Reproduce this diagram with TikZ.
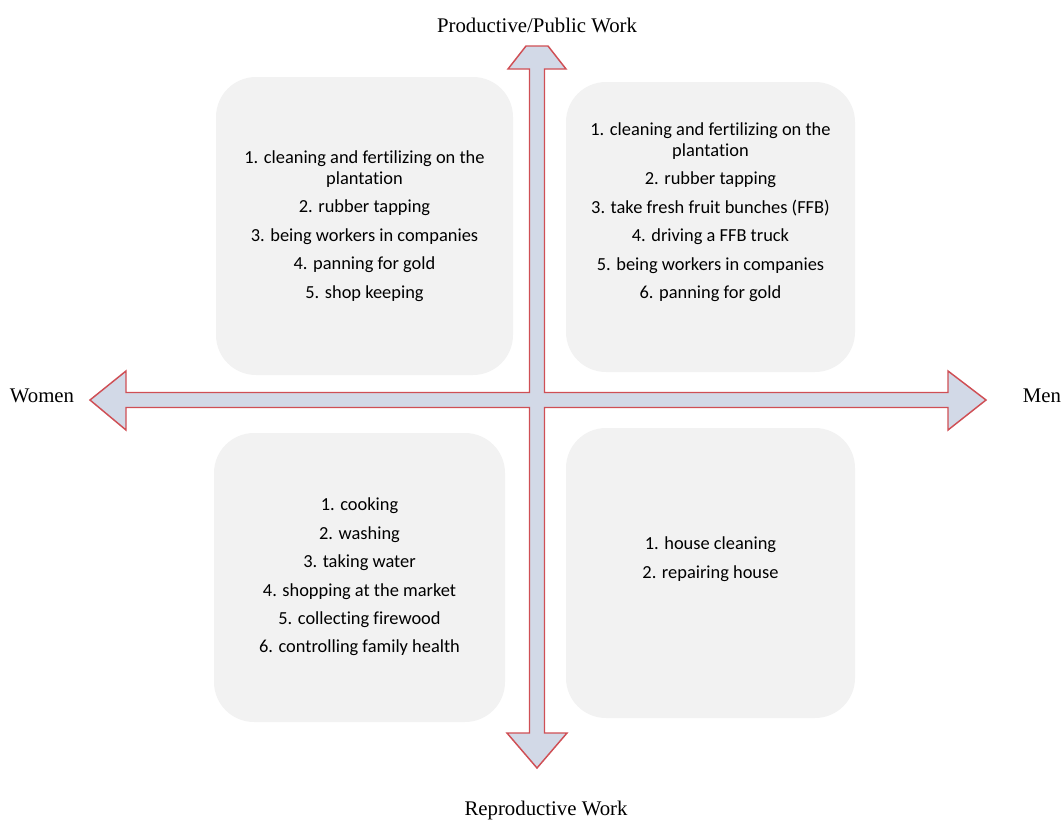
\documentclass[tikz,border=0pt]{standalone}
\usepackage{fontspec}
\setmainfont{Liberation Serif}
\newfontfamily\calibri[Ligatures=NoCommon]{Carlito}
\definecolor{panelgray}{HTML}{F2F2F2}
\definecolor{arrowfill}{HTML}{D2D9E7}
\definecolor{arrowedge}{HTML}{CF4F55}

\begin{document}
\begin{tikzpicture}[x=0.75pt, y=-0.75pt,
  panel/.style={fill=panelgray, rounded corners=30pt},
  list/.style={align=center, font=\calibri\fontsize{13.8}{15.75}\selectfont},
  axislabel/.style={font=\fontsize{15.6}{17}\selectfont}]
  % --- quadrant diagram: women/men vs productive/reproductive work ---
  \def\cx{537}\def\cy{400}
  \def\hw{7.5}

  % Bounding box of the whole image
  \useasboundingbox (0,0) rectangle (1063,821);

  % Rounded panels
  \fill[panel] (216,77) rectangle (513,375);
  \fill[panel] (566,82) rectangle (855,372);
  \fill[panel] (214,433) rectangle (505,722);
  \fill[panel] (566,428) rectangle (855,718);

  % Four-way arrow
  \draw[arrowedge, fill=arrowfill, line width=1.1pt, line join=miter]
    (\cx-\hw,69) -- (508,69) -- (526,46) -- (548,46) -- (566,69) -- (\cx+\hw,69)
    -- (\cx+\hw,\cy-\hw) -- (948,\cy-\hw) -- (948,371) -- (986,\cy) -- (948,430)
    -- (948,\cy+\hw) -- (\cx+\hw,\cy+\hw) -- (\cx+\hw,733) -- (567,733)
    -- (\cx,768) -- (507,733) -- (\cx-\hw,733) -- (\cx-\hw,\cy+\hw)
    -- (126,\cy+\hw) -- (126,430) -- (90,\cy) -- (126,371) -- (126,\cy-\hw)
    -- (\cx-\hw,\cy-\hw) -- cycle;

  % Axis labels
  \node[axislabel] (productive) at (537,25) {Productive/Public Work};
  \node[axislabel] (reproductive) at (546,810) {Reproductive Work};
  \node[axislabel] (women) at (42,396) {Women};
  \node[axislabel] (men) at (1042,396) {Men};

  % Quadrant lists
  \node[list] (womenprod) at (364.5,226) {1. cleaning and fertilizing on the\\plantation\\[5.6pt]
    2. rubber tapping\\[5.6pt] 3. being workers in companies\\[5.6pt]
    4. panning for gold\\[5.6pt] 5. shop keeping};
  \node[list] (menprod) at (710.5,212) {1. cleaning and fertilizing on the\\plantation\\[5.6pt]
    2. rubber tapping\\[5.6pt] 3. take fresh fruit bunches (FFB)\\[5.6pt]
    4. driving a FFB truck\\[5.6pt] 5. being workers in companies\\[5.6pt]
    6. panning for gold};
  \node[list] (womenrepro) at (359.5,577) {1. cooking\\[5.6pt] 2. washing\\[5.6pt]
    3. taking water\\[5.6pt] 4. shopping at the market\\[5.6pt]
    5. collecting firewood\\[5.6pt] 6. controlling family health};
  \node[list] (menrepro) at (710.5,559) {1. house cleaning\\[5.6pt] 2. repairing house};
\end{tikzpicture}
\end{document}
